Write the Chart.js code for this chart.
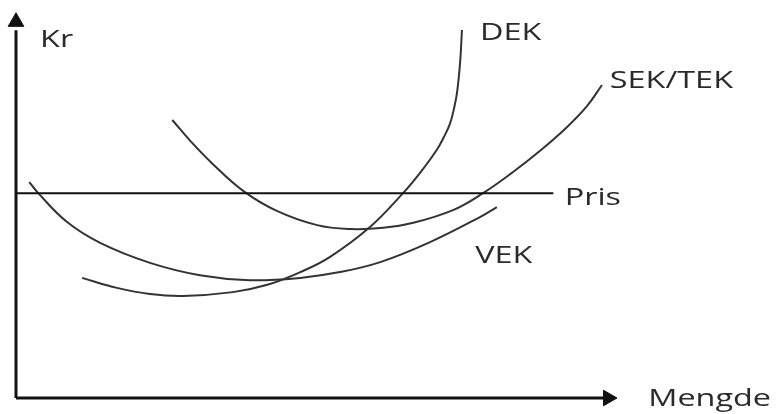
<!DOCTYPE html>
<html>
<head>
<meta charset="utf-8">
<script src="https://cdn.jsdelivr.net/npm/chart.js@4.4.1/dist/chart.umd.min.js"></script>
<style>
  html, body { margin: 0; padding: 0; background: #fff; }
  #wrap { width: 782px; height: 414px; }
</style>
</head>
<body>
<div id="wrap"><canvas id="chart" width="782" height="414"></canvas></div>
<script>
// Mengde (x) and Kr (y), both on a 0-100 scale
const dekX = [11.0, 16.8, 22.3, 27.8, 36.1, 41.8, 47.3, 52.2, 58.9, 64.4, 67.2, 70.0, 71.2, 72.2, 72.9, 73.4, 73.9, 74.2]
const dekY = [31.2, 28.6, 27.0, 26.5, 27.5, 29.4, 32.7, 36.6, 44.4, 53.2, 58.4, 64.4, 67.8, 71.2, 75.3, 79.5, 87.3, 95.6]

const sekX = [26.0, 29.0, 32.6, 37.8, 43.4, 50.1, 55.6, 61.1, 66.1, 72.7, 77.7, 82.7, 87.2, 91.7, 95.0, 97.5]
const sekY = [72.2, 66.8, 61.0, 53.8, 48.6, 44.9, 43.9, 44.2, 45.5, 48.8, 53.2, 58.7, 64.2, 70.4, 75.8, 81.3]

const vekX = [2.2, 3.7, 8.5, 14.0, 22.3, 30.6, 38.9, 47.3, 53.9, 60.6, 68.9, 77.2, 80.0]
const vekY = [56.1, 53.2, 45.7, 40.3, 35.1, 31.9, 30.6, 31.2, 32.7, 35.3, 40.5, 47.0, 49.6]

const prisX = [0, 89.4]
const prisY = [53.2, 53.2]

// text labels, anchored at their left baseline in data units
const labelText = ['Kr', 'DEK', 'SEK/TEK', 'Pris', 'VEK', 'Mengde']
const labelX = [4.0, 77.2, 98.8, 91.3, 76.4, 105.2]
const labelY = [91.2, 93.0, 80.5, 50.1, 35.1, -2.1]

const toPoints = (xs, ys) => xs.map((x, i) => ({ x: x, y: ys[i] }))

const curve = (data, color, width) => ({
  data: data,
  borderColor: color,
  borderWidth: width,
  pointRadius: 0,
  tension: 0.4,
  fill: false,
  clip: false,
})

const arrowHead = (x, y, rotation) => ({
  data: [{ x: x, y: y }],
  pointStyle: 'triangle',
  pointRadius: 9,
  rotation: rotation,
  backgroundColor: '#111',
  borderColor: '#111',
  borderWidth: 1,
  showLine: false,
  clip: false,
})

// draws the curve names next to the lines
const labelPlugin = {
  id: 'curveLabels',
  afterDatasetsDraw(chart) {
    const { ctx, scales } = chart
    ctx.save()
    ctx.fillStyle = '#2a2a2a'
    ctx.font = '24px "Open Sans"'
    ctx.textBaseline = 'alphabetic'
    ctx.textAlign = 'left'
    labelText.forEach((t, i) => {
      const px = scales.x.getPixelForValue(labelX[i])
      const py = scales.y.getPixelForValue(labelY[i])
      ctx.save()
      ctx.translate(px, py)
      ctx.scale(1.35, 1)
      ctx.fillText(t, 0, 0)
      ctx.restore()
    })
    ctx.restore()
  },
}

const ctx = document.getElementById('chart').getContext('2d')

new Chart(ctx, {
  type: 'line',
  data: {
    datasets: [
      // axes
      curve([{ x: 0, y: 0 }, { x: 0, y: 95.5 }], '#111', 3),
      curve([{ x: 0, y: 0 }, { x: 98, y: 0 }], '#111', 3),
      arrowHead(0, 97.7, 0),
      arrowHead(98.5, 0, 90),
      curve(toPoints(prisX, prisY), '#111', 2),
      curve(toPoints(vekX, vekY), '#333', 2),
      curve(toPoints(sekX, sekY), '#333', 2),
      curve(toPoints(dekX, dekY), '#333', 2),
    ],
  },
  options: {
    responsive: false,
    animation: false,
    layout: { padding: { left: 16, right: 165, top: 13, bottom: 16 } },
    plugins: {
      legend: { display: false },
      tooltip: { enabled: false },
    },
    scales: {
      x: { type: 'linear', min: 0, max: 100, display: false },
      y: { type: 'linear', min: 0, max: 100, display: false },
    },
  },
  plugins: [labelPlugin],
})
</script>
</body>
</html>
